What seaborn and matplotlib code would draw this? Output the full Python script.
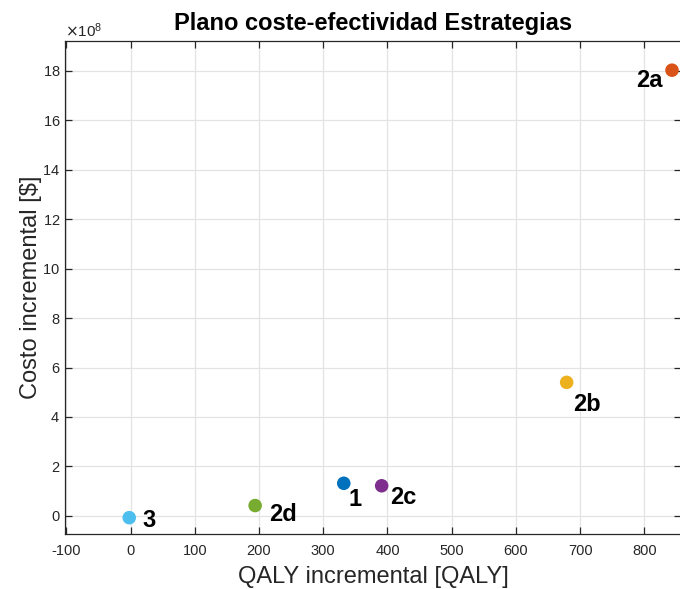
import pandas as pd
import seaborn as sns
import matplotlib.pyplot as plt
from matplotlib.ticker import ScalarFormatter, MultipleLocator

# Strategy data
strategies = ['1', '2a', '2b', '2c', '2d', '3']
qaly = [332, 843, 679, 391, 194, -2]
cost = [1.32e8, 18.02e8, 5.40e8, 1.22e8, 0.42e8, -0.07e8]
colors = ['#0072BD', '#D95319', '#EDB120', '#7E2F8E', '#77AC30', '#4DBEEE']

# label offsets in pixels (dx, dy)
offsets = {'1': (11, -16), '2a': (-23, -10), '2b': (20, -22),
           '2c': (22, -12), '2d': (28, -9), '3': (20, -3)}

df = pd.DataFrame({'Estrategia': strategies, 'QALY': qaly, 'Costo': cost})

sns.set_style('whitegrid')
plt.rcParams['font.family'] = ['Liberation Sans', 'DejaVu Sans']
plt.rcParams['axes.unicode_minus'] = False

fig = plt.figure(figsize=(6.8, 5.89), dpi=100)
ax = fig.add_axes([65 / 680, 1 - 534 / 589, 616 / 680, (534 - 41) / 589])

sns.scatterplot(data=df, x='QALY', y='Costo', hue='Estrategia', palette=colors,
                s=95, edgecolor='none', legend=False, ax=ax, zorder=3)

for name, x, y in zip(strategies, qaly, cost):
    dx, dy = offsets[name]
    ax.annotate(name, (x, y), xytext=(dx, dy), textcoords='offset pixels',
                ha='center', va='center', fontsize=17, fontweight='bold', color='black')

ax.set_xlim(-102, 857)
ax.set_ylim(-0.73e8, 19.2e8)
ax.xaxis.set_major_locator(MultipleLocator(100))
ax.yaxis.set_major_locator(MultipleLocator(2e8))

fmt = ScalarFormatter(useMathText=True)
fmt.set_powerlimits((8, 8))
ax.yaxis.set_major_formatter(fmt)
ax.yaxis.get_offset_text().set_fontsize(11)
ax.yaxis.get_offset_text().set_color('#262626')

ax.grid(True, color='#e3e3e3', linewidth=0.9)
for s in ax.spines.values():
    s.set_color('#262626')
    s.set_linewidth(0.9)
ax.tick_params(direction='in', length=5, width=0.9, colors='#262626', labelsize=10.5,
               top=True, right=True, bottom=True, left=True)
ax.tick_params(axis='x', pad=7)

ax.set_xlabel('QALY incremental [QALY]', fontsize=17, color='#262626', labelpad=6)
ax.set_ylabel('Costo incremental [$]', fontsize=17, color='#262626', labelpad=0)
ax.set_title('Plano coste-efectividad Estrategias', fontsize=17, fontweight='bold',
             color='black', pad=8)

fig.savefig('out.png', dpi=100)
